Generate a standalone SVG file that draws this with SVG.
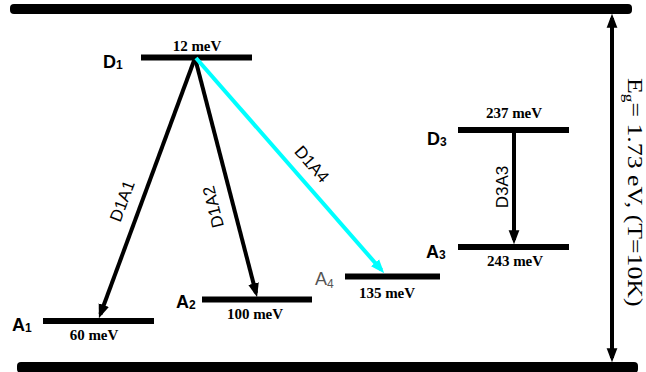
<svg xmlns="http://www.w3.org/2000/svg" width="646" height="372" viewBox="0 0 646 372">
<style>
.bar{fill:#000}
.lvl{stroke:#000;stroke-width:6;fill:none}
.mev{font-family:"Liberation Serif","Times New Roman",serif;font-size:15px;font-weight:bold;text-anchor:middle;fill:#000}
.name{font-family:"Liberation Sans",Arial,sans-serif;font-size:18px;font-weight:bold;fill:#000}
.sub{font-size:12px}
.cl{font-family:"Liberation Sans",Arial,sans-serif;font-size:17px;text-anchor:middle;fill:#000}
.k{stroke:#000;stroke-width:4;fill:none}
.c{stroke:#00FFFF;stroke-width:4;fill:none}
</style>
<defs>
<marker id="ah" markerUnits="userSpaceOnUse" markerWidth="14" markerHeight="12" viewBox="0 0 13 10" refX="9" refY="5" orient="auto-start-reverse">
<path d="M0,0 L13,5 L0,10 z" fill="#000"/>
</marker>
<marker id="ahc" markerUnits="userSpaceOnUse" markerWidth="14" markerHeight="12" viewBox="0 0 13 10" refX="9" refY="5" orient="auto">
<path d="M0,0 L13,5 L0,10 z" fill="#00FFFF"/>
</marker>
</defs>
<rect width="646" height="372" fill="#fff"/>
<g id="conduction-band"><rect class="bar" x="10" y="4" width="622" height="10" rx="4"/></g>
<g id="valence-band"><rect class="bar" x="17" y="362" width="621" height="11" rx="4"/></g>
<g id="D1">
<line class="lvl" x1="141" y1="57.5" x2="252" y2="57.5"/>
<text class="mev" x="197" y="51">12 meV</text>
<text class="name" x="103" y="68">D<tspan class="sub" dy="1">1</tspan></text>
</g>
<g id="A1">
<line class="lvl" x1="43" y1="321" x2="154" y2="321"/>
<text class="mev" x="94" y="340">60 meV</text>
<text class="name" x="12" y="331">A<tspan class="sub" dy="1">1</tspan></text>
</g>
<g id="A2">
<line class="lvl" x1="202" y1="299.5" x2="312" y2="299.5"/>
<text class="mev" x="255" y="319">100 meV</text>
<text class="name" x="176" y="308">A<tspan class="sub" dy="1">2</tspan></text>
</g>
<g id="A4">
<line class="lvl" x1="345" y1="276.5" x2="440" y2="276.5"/>
<text class="mev" x="387" y="298">135 meV</text>
<text x="315" y="285" font-family="Liberation Sans,Arial,sans-serif" font-size="18" fill="#555">A<tspan font-size="12" dy="3">4</tspan></text>
</g>
<g id="D3">
<line class="lvl" x1="458" y1="130" x2="569" y2="130"/>
<text class="mev" x="514" y="118">237 meV</text>
<text class="name" x="427" y="145">D<tspan class="sub" dy="1">3</tspan></text>
</g>
<g id="A3">
<line class="lvl" x1="458" y1="247" x2="569" y2="247"/>
<text class="mev" x="515" y="266">243 meV</text>
<text class="name" x="426" y="258">A<tspan class="sub" dy="1">3</tspan></text>
</g>
<g id="connectors">
<line class="k" x1="195" y1="58" x2="100.4" y2="314.2" marker-end="url(#ah)"/>
<line class="k" x1="195" y1="58" x2="256" y2="293" marker-end="url(#ah)"/>
<line class="c" x1="196" y1="58" x2="381.4" y2="270" marker-end="url(#ahc)"/>
<line class="k" x1="514" y1="133" x2="514" y2="240" marker-end="url(#ah)"/>
<line class="k" x1="612" y1="18" x2="612" y2="358" marker-start="url(#ah)" marker-end="url(#ah)"/>
<text class="cl" transform="translate(122,201) rotate(-69.5)" y="6">D1A1</text>
<text class="cl" transform="translate(213,207) rotate(-104.3)" y="6">D1A2</text>
<text class="cl" transform="translate(312,164) rotate(49)" y="6">D1A4</text>
<text class="cl" transform="translate(502,187) rotate(-90)" y="6">D3A3</text>
<text transform="translate(628,78) rotate(90) scale(1.23,1)" font-family="Liberation Serif,'Times New Roman',serif" font-size="21">E<tspan font-size="14" dy="4">g</tspan><tspan dy="-4">= 1.73 eV, (T=10K)</tspan></text>
</g>
</svg>
